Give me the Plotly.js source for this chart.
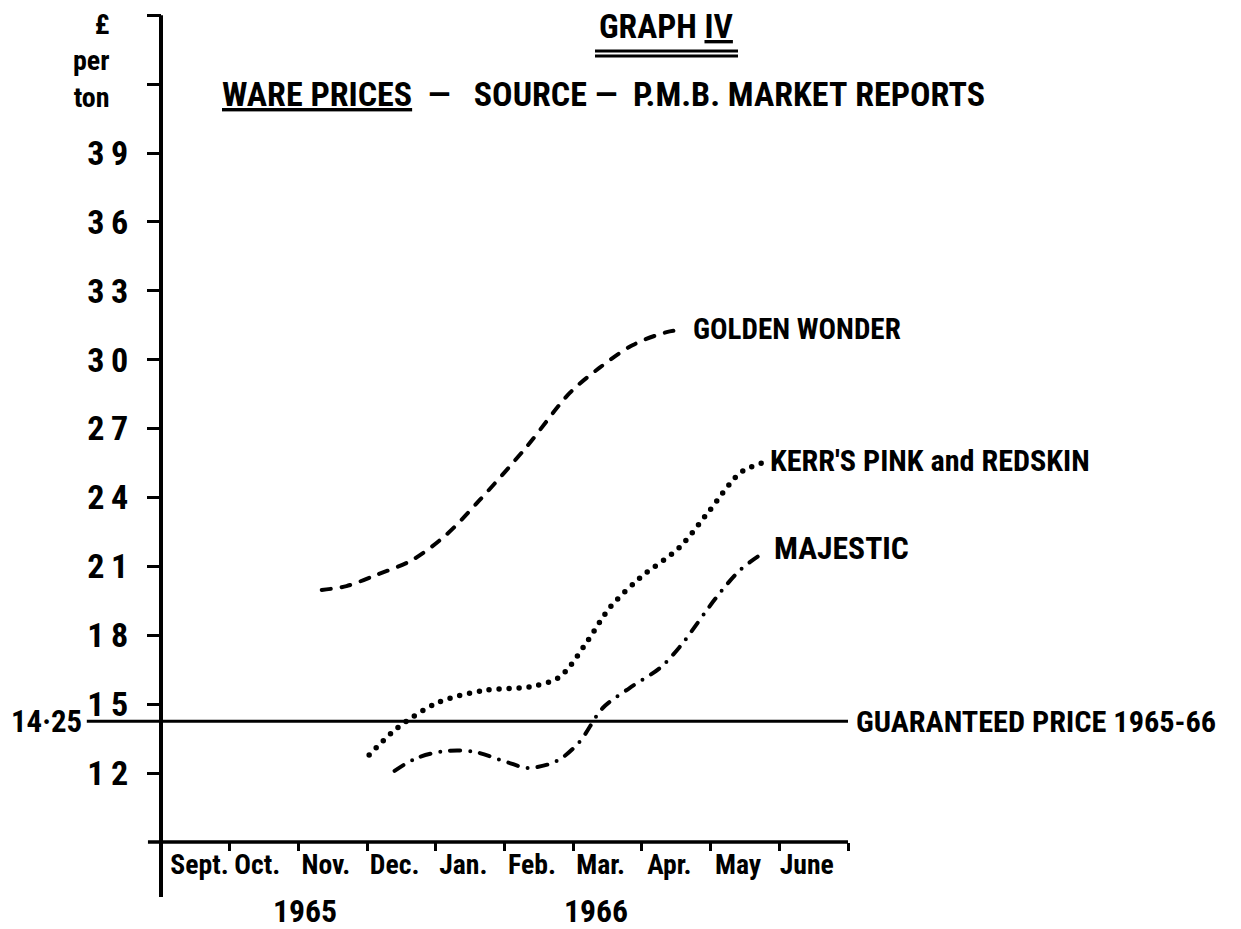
<!DOCTYPE html>
<html>
<head>
<meta charset="utf-8">
<script src="https://cdn.plot.ly/plotly-3.0.1.min.js"></script>
<style>
html,body{margin:0;padding:0;background:#fff;}
#chart{width:1241px;height:929px;}
#chart .scatterlayer .js-line{stroke-linecap:round;stroke-linejoin:round;}
</style>
</head>
<body>
<div id="chart"></div>
<script>
// ---------- data ----------
const MONTHS = ['Sept.', 'Oct.', 'Nov.', 'Dec.', 'Jan.', 'Feb.', 'Mar.', 'Apr.', 'May', 'June'];
const YEARS = ['1965', '1966'];
const YEAR_POS = [2.1, 6.33];               // month-scale position of the year captions
const Y_TICKS = [12, 15, 18, 21, 24, 27, 30, 33, 36, 39, 42, 45];
const Y_TICK_TEXT = ['1\u20092', '1\u20095', '1\u20098', '2\u20091', '2\u20094', '2\u20097', '3\u20090', '3\u20093', '3\u20096', '3\u20099', '', ''];
const GUARANTEED = 14.25;
const GUARANTEED_TEXT = '14·25';

// x = months since start of September 1965, y = £ per ton
const goldenX = [2.34, 2.70, 3.13, 3.66, 4.15, 4.64, 5.32, 5.95, 6.38, 6.87, 7.36, 7.59];
const goldenY = [19.97, 20.14, 20.62, 21.28, 22.37, 23.89, 26.2, 28.55, 29.64, 30.64, 31.2, 31.3];

const kerrX = [3.03, 3.44, 4.05, 4.74, 5.36, 5.80, 6.20, 6.53, 6.97, 7.55, 7.99, 8.43, 8.75];
const kerrY = [12.78, 13.96, 15.09, 15.61, 15.75, 16.18, 17.71, 19.19, 20.49, 21.84, 23.45, 25.07, 25.5];

const majX = [3.40, 3.72, 4.15, 4.55, 5.03, 5.34, 5.76, 6.09, 6.43, 6.82, 7.26, 7.55, 8.09, 8.43, 8.79];
const majY = [12.09, 12.65, 12.96, 12.93, 12.48, 12.22, 12.52, 13.35, 14.83, 15.70, 16.57, 17.49, 19.67, 20.84, 21.63];

const SERIES_NAMES = ['GOLDEN WONDER', "KERR'S PINK and REDSKIN", 'MAJESTIC'];
const GUARANTEED_LABEL = 'GUARANTEED PRICE 1965-66';
const TITLE_PLAIN = 'GRAPH IV';
const TITLE = 'GRAPH <u>IV</u>';
const SUB_PARTS = ['WARE PRICES', '\u00a0\u00a0—\u00a0\u00a0\u00a0SOURCE\u00a0—\u00a0\u00a0P.M.B.\u00a0MARKET\u00a0REPORTS'];
const Y_UNIT = ['£', 'per', 'ton'];

// ---------- geometry ----------
const W = 1241, H = 929;
const X0PX = 161, XPX_PER = 68.7;        // x=0 at 161px
const Y12PX = 773, YPX_PER = 22.963;     // y=12 at 773px
const xr = [-X0PX / XPX_PER, (W - X0PX) / XPX_PER];
const yr = [12 - (H - Y12PX) / YPX_PER, 12 + Y12PX / YPX_PER];
const Y_BASE = 9.0;      // level of the month axis
const Y_AX_BOTTOM = 6.6; // y-axis line runs below the month axis
const FONT = "'Liberation Sans Narrow','Roboto Condensed','DejaVu Sans Condensed','Arial Narrow','DejaVu Sans',sans-serif";
const px = v => v / W, py = v => 1 - v / H;

// font size fitted so that a text spans a target width
const cv = document.createElement('canvas').getContext('2d');
function fit(text, width, maxSize) {
  cv.font = 'bold 100px ' + FONT;
  const s = 100 * width / cv.measureText(text).width;
  return Math.min(maxSize || 99, Math.round(s * 10) / 10);
}

const labelPos = MONTHS.map((m, i) => (i === 0 ? 0.56 : i + 0.4));
const bounds = MONTHS.map((m, i) => i + 1);

const lineStyle = (dash, w) => ({color: '#000', width: w || 4, shape: 'spline', smoothing: 0.9, dash: dash});
const traces = [
  {x: goldenX, y: goldenY, mode: 'lines', line: lineStyle('9px,11px', 4), hoverinfo: 'skip'},
  {x: kerrX, y: kerrY, mode: 'lines', line: lineStyle('0px,10px', 5.5), hoverinfo: 'skip'},
  {x: majX, y: majY, mode: 'lines', line: lineStyle('10px,10px,0px,10px', 4), hoverinfo: 'skip'}
];

const shapes = [
  {type: 'line', xref: 'x', yref: 'y', x0: 0, x1: 0, y0: Y_AX_BOTTOM, y1: Y_TICKS[Y_TICKS.length - 1], line: {color: '#000', width: 4}},
  {type: 'line', xref: 'x', yref: 'y', x0: -0.19, x1: MONTHS.length, y0: Y_BASE, y1: Y_BASE, line: {color: '#000', width: 3.5}},
  {type: 'line', xref: 'x', yref: 'y', x0: -1.08, x1: MONTHS.length, y0: GUARANTEED, y1: GUARANTEED, line: {color: '#000', width: 3}},
  {type: 'line', xref: 'paper', yref: 'paper', x0: px(595), x1: px(738), y0: py(51), y1: py(51), line: {color: '#000', width: 3}},
  {type: 'line', xref: 'paper', yref: 'paper', x0: px(595), x1: px(738), y0: py(56), y1: py(56), line: {color: '#000', width: 3}}
];

const f = (size) => ({family: FONT, size: size, color: '#000', weight: 'bold'});
const subText = '<u>' + SUB_PARTS[0] + '</u>' + SUB_PARTS[1];
const subSize = fit(SUB_PARTS[0] + SUB_PARTS[1], 762);
const seriesEnds = [[goldenX, goldenY], [kerrX, kerrY], [majX, majY]];
const seriesWidths = [208, 320, 135];
const seriesShift = [[9, 1], [6, 3], [7, 3]];

const annotations = [
  {xref: 'paper', yref: 'paper', x: px(666), y: py(26), text: TITLE, showarrow: false, font: f(fit(TITLE_PLAIN, 134)), xanchor: 'center', yanchor: 'middle'},
  {xref: 'paper', yref: 'paper', x: px(603), y: py(94), text: subText, showarrow: false, font: f(subSize), xanchor: 'center', yanchor: 'middle'},
  {xref: 'paper', yref: 'paper', x: px(112), y: py(6), text: Y_UNIT.join('<br>'), showarrow: false, font: f(fit(Y_UNIT[1], 43, 28)), xanchor: 'right', yanchor: 'top', align: 'right'},
  {xref: 'x', yref: 'y', x: -1.08, y: GUARANTEED, text: GUARANTEED_TEXT, showarrow: false, font: f(fit(GUARANTEED_TEXT, 71)), xanchor: 'right', yanchor: 'middle', xshift: -3},
  {xref: 'x', yref: 'y', x: MONTHS.length, y: GUARANTEED, text: GUARANTEED_LABEL, showarrow: false, font: f(fit(GUARANTEED_LABEL, 360)), xanchor: 'left', yanchor: 'middle', xshift: 6}
].concat(SERIES_NAMES.map((name, i) => ({
  xref: 'x', yref: 'y',
  x: seriesEnds[i][0][seriesEnds[i][0].length - 1], y: seriesEnds[i][1][seriesEnds[i][1].length - 1],
  text: name, showarrow: false, font: f(fit(name, seriesWidths[i])), xanchor: 'left', yanchor: 'middle',
  xshift: seriesShift[i][0], yshift: seriesShift[i][1]
}))).concat(YEARS.map((yv, i) => ({
  xref: 'x', yref: 'paper', x: YEAR_POS[i], y: py(911), text: yv, showarrow: false, font: f(fit(yv, 64)), xanchor: 'center', yanchor: 'middle'
})));

const layout = {
  width: W, height: H,
  margin: {l: 0, r: 0, t: 0, b: 0},
  paper_bgcolor: '#fff', plot_bgcolor: '#fff',
  showlegend: false,
  xaxis: {
    range: xr, domain: [0, 1], anchor: 'free', position: (Y_BASE - yr[0]) / (yr[1] - yr[0]),
    showgrid: false, zeroline: false, showline: false,
    tickmode: 'array', tickvals: labelPos, ticktext: MONTHS, ticks: '', ticklabelstandoff: 3,
    tickfont: f(fit('June', 54)),
    minor: {tickmode: 'array', tickvals: bounds, ticks: 'outside', ticklen: 8, tickwidth: 3, tickcolor: '#000', showgrid: false},
    fixedrange: true
  },
  yaxis: {
    range: yr, domain: [0, 1], anchor: 'free', position: X0PX / W,
    showgrid: false, zeroline: false, showline: false,
    tickmode: 'array', tickvals: Y_TICKS, ticktext: Y_TICK_TEXT,
    ticks: 'outside', ticklen: 14, tickwidth: 3, tickcolor: '#000', ticklabelstandoff: 12,
    tickfont: f(fit(Y_TICK_TEXT[6], 41, 36)),
    fixedrange: true
  },
  shapes: shapes,
  annotations: annotations
};

Plotly.newPlot('chart', traces, layout, {staticPlot: true, displayModeBar: false});
</script>
</body>
</html>
